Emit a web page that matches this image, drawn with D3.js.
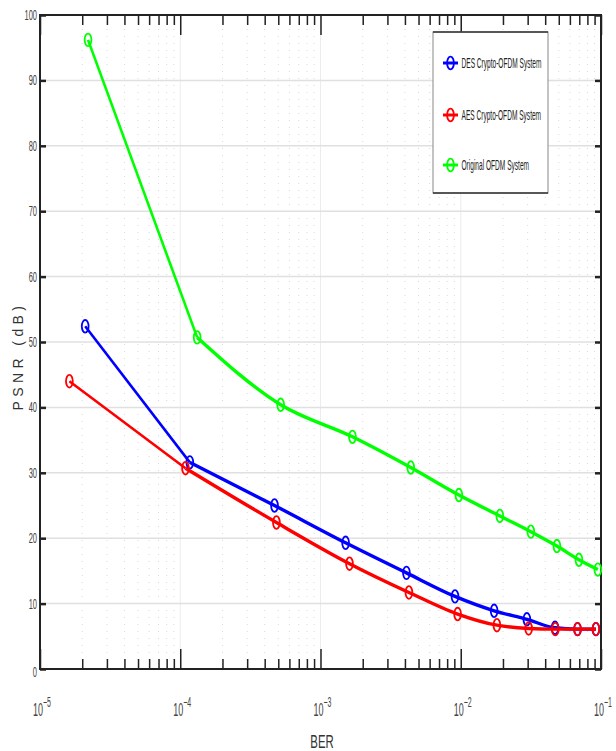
<!DOCTYPE html>
<html>
<head>
<meta charset="utf-8">
<script src="https://cdn.jsdelivr.net/npm/d3@7"></script>
<style>
  body { margin: 0; background: #fff; }
  svg { display: block; font-family: "Liberation Sans", Arial, sans-serif; }
</style>
</head>
<body>
<svg width="616" height="751"></svg>
<script>
// values
var berDES = [2.1e-5, 1.17e-4, 4.7e-4, 1.51e-3, 4.1e-3, 9.1e-3, 1.73e-2, 2.96e-2, 4.7e-2, 6.8e-2, 9.2e-2]
var psnrDES = [52.4, 31.6, 25.0, 19.3, 14.7, 11.1, 8.9, 7.6, 6.3, 6.1, 6.1]

var berAES = [1.62e-5, 1.09e-4, 4.85e-4, 1.61e-3, 4.27e-3, 9.5e-3, 1.81e-2, 3.05e-2, 4.72e-2, 6.8e-2, 9.2e-2]
var psnrAES = [44.0, 30.7, 22.4, 16.1, 11.7, 8.4, 6.7, 6.2, 6.1, 6.1, 6.1]

var berOrig = [2.2e-5, 1.32e-4, 5.2e-4, 1.69e-3, 4.4e-3, 9.7e-3, 1.9e-2, 3.16e-2, 4.85e-2, 6.96e-2, 9.5e-2]
var psnrOrig = [96.2, 50.7, 40.4, 35.5, 30.8, 26.6, 23.4, 21.0, 18.8, 16.7, 15.2]

var seriesNames = ['DES Crypto-OFDM System', 'AES Crypto-OFDM System', 'Original OFDM System']
var seriesColors = ['#0000ff', '#ff0000', '#00ff00']

var yTicks = [0, 10, 20, 30, 40, 50, 60, 70, 80, 90, 100]
var xDecades = [1e-5, 1e-4, 1e-3, 1e-2, 1e-1]
var xDecadeLabels = ['\u22125', '\u22124', '\u22123', '\u22122', '\u22121']

;(function () {

  var svg = d3.select('svg')
  var pl = 40, pr = 601, pt = 15, pb = 669

  var x = d3.scaleLog().domain([1e-5, 1e-1]).range([pl, pr])
  var y = d3.scaleLinear().domain([0, 100]).range([pb, pt])

  var minorTicks = []
  xDecades.slice(0, -1).forEach(function (d) {
    for (var k = 2; k <= 9; k++) minorTicks.push(d * k)
  })

  // squeezed text, the picture has narrow glyphs
  function narrowText (g, str, tx, ty, size, sx, anchor, color) {
    return g.append('text')
      .attr('transform', 'translate(' + tx + ',' + ty + ') scale(' + sx + ',1)')
      .attr('font-size', size)
      .attr('text-anchor', anchor || 'start')
      .attr('fill', color || '#333')
      .text(str)
  }

  // grid
  var grid = svg.append('g')
  grid.selectAll('.minor').data(minorTicks).enter().append('line')
    .attr('x1', function (d) { return x(d) }).attr('x2', function (d) { return x(d) })
    .attr('y1', pt).attr('y2', pb)
    .attr('stroke', '#d8d8d8').attr('stroke-width', 1).attr('stroke-dasharray', '1,6')
  grid.selectAll('.major').data(xDecades.slice(1, -1)).enter().append('line')
    .attr('x1', function (d) { return x(d) }).attr('x2', function (d) { return x(d) })
    .attr('y1', pt).attr('y2', pb)
    .attr('stroke', '#ececec').attr('stroke-width', 1)
  grid.selectAll('.hgrid').data(yTicks.slice(1, -1)).enter().append('line')
    .attr('x1', pl).attr('x2', pr)
    .attr('y1', function (d) { return y(d) }).attr('y2', function (d) { return y(d) })
    .attr('stroke', '#e0e0e0').attr('stroke-width', 1.5)

  // ticks on all four sides, pointing inward
  function styleAxis (g) {
    g.select('.domain').remove()
    g.selectAll('line').attr('stroke', '#222').attr('stroke-width', 1.5)
  }
  svg.append('g').attr('transform', 'translate(0,' + pb + ')')
    .call(d3.axisBottom(x).tickValues(minorTicks).tickSize(-10).tickFormat(''))
    .call(styleAxis)
  svg.append('g').attr('transform', 'translate(0,' + pb + ')')
    .call(d3.axisBottom(x).tickValues(xDecades).tickSize(-20).tickFormat(''))
    .call(styleAxis)
  svg.append('g').attr('transform', 'translate(0,' + pt + ')')
    .call(d3.axisTop(x).tickValues(minorTicks).tickSize(-10).tickFormat(''))
    .call(styleAxis)
  svg.append('g').attr('transform', 'translate(0,' + pt + ')')
    .call(d3.axisTop(x).tickValues(xDecades).tickSize(-20).tickFormat(''))
    .call(styleAxis)
  svg.append('g').attr('transform', 'translate(' + pl + ',0)')
    .call(d3.axisLeft(y).tickValues(yTicks).tickSize(-6).tickFormat(''))
    .call(styleAxis)
    .selectAll('line').attr('stroke-width', 2.5)
  svg.append('g').attr('transform', 'translate(' + pr + ',0)')
    .call(d3.axisRight(y).tickValues(yTicks).tickSize(-6).tickFormat(''))
    .call(styleAxis)
    .selectAll('line').attr('stroke-width', 2.5)

  // frame
  svg.append('rect')
    .attr('x', pl).attr('y', pt)
    .attr('width', pr - pl).attr('height', pb - pt)
    .attr('fill', 'none').attr('stroke', '#222').attr('stroke-width', 2)

  // tick labels
  var labels = svg.append('g')
  yTicks.forEach(function (v) {
    narrowText(labels, String(v), 37, y(v) + 5 + (v === 0 ? 3 : 0), 15, 0.5, 'end', '#444')
  })
  xDecades.forEach(function (v, i) {
    var t = labels.append('text')
      .attr('transform', 'translate(' + (x(v) - 7) + ',716) scale(0.5,1)')
      .attr('font-size', 18).attr('fill', '#444')
    t.append('tspan').text('10')
    t.append('tspan').attr('dy', -9).attr('font-size', 14).text(xDecadeLabels[i])
  })

  narrowText(labels, 'BER', 322, 748, 19, 0.6, 'middle', '#333')
  labels.append('text')
    .attr('transform', 'translate(23,' + ((pt + pb) / 2 + 14) + ') rotate(-90)')
    .attr('font-size', 14).attr('letter-spacing', 4.4)
    .attr('text-anchor', 'middle').attr('fill', '#333')
    .text('PSNR (dB)')

  // series
  var series = [
    { ber: berDES, psnr: psnrDES },
    { ber: berAES, psnr: psnrAES },
    { ber: berOrig, psnr: psnrOrig }
  ]
  var straight = d3.line()
    .x(function (d) { return x(d[0]) })
    .y(function (d) { return y(d[1]) })
  var smooth = d3.line()
    .x(function (d) { return x(d[0]) })
    .y(function (d) { return y(d[1]) })
    .curve(d3.curveMonotoneX)

  // green first, then blue, red on top
  ;[2, 0, 1].forEach(function (i) {
    var pts = d3.zip(series[i].ber, series[i].psnr)
    var g = svg.append('g')
      .attr('fill', 'none')
      .attr('stroke', seriesColors[i])
    // first segment is straight, the rest is smoothed
    g.append('path').datum(pts.slice(0, 2))
      .attr('d', straight)
      .attr('stroke-width', 2.6)
    g.append('path').datum(pts.slice(1))
      .attr('d', smooth)
      .attr('stroke-width', 3.4)
      .attr('stroke-linejoin', 'round')
    g.selectAll('ellipse').data(pts).enter().append('ellipse')
      .attr('cx', function (d) { return x(d[0]) })
      .attr('cy', function (d) { return y(d[1]) })
      .attr('rx', 3.4).attr('ry', 6.3)
      .attr('stroke-width', 1.8)
  })

  // legend
  var lg = svg.append('g')
  lg.append('rect')
    .attr('x', 433).attr('y', 32).attr('width', 115).attr('height', 161)
    .attr('fill', '#fff').attr('stroke', '#888').attr('stroke-width', 1)
  lg.append('line').attr('x1', 433).attr('x2', 548).attr('y1', 32).attr('y2', 32)
    .attr('stroke', '#333').attr('stroke-width', 1.5)
  lg.append('line').attr('x1', 433).attr('x2', 548).attr('y1', 193).attr('y2', 193)
    .attr('stroke', '#333').attr('stroke-width', 1.5)
  var legendY = [63, 115, 165]
  seriesNames.forEach(function (name, i) {
    var row = lg.append('g').attr('transform', 'translate(0,' + legendY[i] + ')')
    row.append('line').attr('x1', 443).attr('x2', 458).attr('y1', 0).attr('y2', 0)
      .attr('stroke', seriesColors[i]).attr('stroke-width', 3)
    row.append('ellipse').attr('cx', 450.5).attr('cy', 0).attr('rx', 3.4).attr('ry', 6.3)
      .attr('fill', 'none').attr('stroke', seriesColors[i]).attr('stroke-width', 1.8)
    narrowText(row, name, 461.5, 5, 14, 0.47, 'start', '#222')
  })

})()
</script>
</body>
</html>
